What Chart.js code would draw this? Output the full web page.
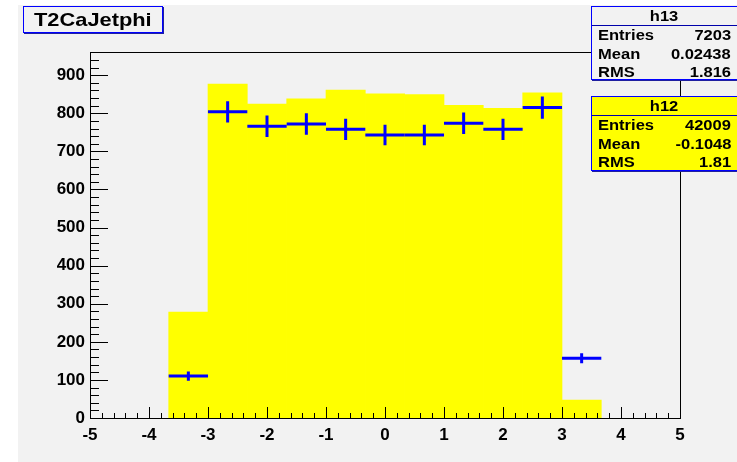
<!DOCTYPE html>
<html>
<head>
<meta charset="utf-8">
<script src="https://cdn.jsdelivr.net/npm/chart.js@4.4.1/dist/chart.umd.min.js"></script>
<style>
  html, body { margin: 0; padding: 0; background: #fff; }
  #wrap { position: relative; width: 737px; height: 462px; overflow: hidden; }
  #c { position: absolute; left: 0; top: 0; }
  .box {
    position: absolute; box-sizing: border-box; border: 1px solid #0000ff;
    box-shadow: 1px 1px 0 #2020a0;
    font-family: "Liberation Sans", Arial, sans-serif; font-weight: bold; color: #000;
  }
  .sx { display: inline-block; transform: scaleX(1.18); white-space: nowrap; }
  .title { left: 23px; top: 6px; width: 140px; height: 27px; background: #f2f2f2; font-size: 18.5px; line-height: 26px; padding-left: 10px; }
  .title .sx { transform-origin: left center; }
  .stat { left: 591px; width: 147px; font-size: 14px; }
  .stat .hd { height: 18px; line-height: 18px; text-align: center; border-bottom: 1px solid #0000aa; }
  .stat .row { position: relative; height: 18.5px; line-height: 18.5px; }
  .stat .k { position: absolute; left: 6px; transform-origin: left center; }
  .stat .v { position: absolute; right: 6px; transform-origin: right center; }
</style>
</head>
<body>
<div id="wrap">
  <canvas id="c" width="737" height="462"></canvas>
  <div class="box title"><span class="sx">T2CaJetphi</span></div>
  <div class="box stat" style="top:6px;height:74px;background:#f2f2f2">
    <div class="hd"><span class="sx">h13</span></div>
    <div class="row"><span class="k sx">Entries</span><span class="v sx">7203</span></div>
    <div class="row"><span class="k sx">Mean</span><span class="v sx">0.02438</span></div>
    <div class="row"><span class="k sx">RMS</span><span class="v sx">1.816</span></div>
  </div>
  <div class="box stat" style="top:96px;height:75px;background:#ffff00">
    <div class="hd"><span class="sx">h12</span></div>
    <div class="row"><span class="k sx">Entries</span><span class="v sx">42009</span></div>
    <div class="row"><span class="k sx">Mean</span><span class="v sx">-0.1048</span></div>
    <div class="row"><span class="k sx">RMS</span><span class="v sx">1.81</span></div>
  </div>
</div>
<script>
// ---- data ----
const binCenters = [-3.333, -2.667, -2, -1.333, -0.667, 0, 0.667, 1.333, 2, 2.667, 3.333];
const binHalfWidth = 1 / 3;
const h12Counts = [278, 877, 824, 838, 861, 851, 849, 821, 813, 854, 47];
const h13Counts = [110, 804, 766, 772, 758, 743, 743, 774, 758, 815, 157];
const h13Errors = [12, 28, 28, 28, 28, 27, 27, 28, 28, 29, 13];
const xTickValues = [-5, -4, -3, -2, -1, 0, 1, 2, 3, 4, 5];
const yTickValues = [0, 100, 200, 300, 400, 500, 600, 700, 800, 900];

const X_MIN = -5, X_MAX = 5, Y_MIN = 0, Y_MAX = 961;

const tickFont = { family: "'Liberation Sans', Arial, sans-serif", size: 17, weight: 'bold' };

/* ---------- fond gris du pad ---------- */
const padBackground = {
  id: 'padBackground',
  beforeDraw(chart) {
    const ctx = chart.ctx;
    ctx.save();
    ctx.fillStyle = '#f2f2f2';
    ctx.fillRect(18, 5, chart.width - 18, chart.height - 5);
    ctx.restore();
  }
};

/* ---------- croix h13 + cadre + ticks internes ---------- */
const rootStyle = {
  id: 'rootStyle',
  afterDatasetsDraw(chart) {
    const { ctx, chartArea: a, scales } = chart;
    const x = scales.x, y = scales.y;
    ctx.save();

    // h13 error crosses
    ctx.strokeStyle = '#0000ff';
    ctx.lineWidth = 3;
    const pts = chart.data.datasets[1].data;
    pts.forEach((p, i) => {
      const px = x.getPixelForValue(p.x);
      const py = y.getPixelForValue(p.y);
      ctx.beginPath();
      ctx.moveTo(x.getPixelForValue(p.x - binHalfWidth), py);
      ctx.lineTo(x.getPixelForValue(p.x + binHalfWidth), py);
      ctx.moveTo(px, y.getPixelForValue(p.y - h13Errors[i]));
      ctx.lineTo(px, y.getPixelForValue(p.y + h13Errors[i]));
      ctx.stroke();
    });

    // frame
    ctx.strokeStyle = '#000';
    ctx.lineWidth = 1;
    ctx.strokeRect(a.left + 0.5, a.top + 0.5, a.right - a.left, a.bottom - a.top);

    // y ticks (inside)
    ctx.beginPath();
    for (let v = Y_MIN; v <= Y_MAX; v += 20) {
      const py = Math.round(y.getPixelForValue(v)) + 0.5;
      const len = v % 100 === 0 ? 18 : 9;
      ctx.moveTo(a.left, py);
      ctx.lineTo(a.left + len, py);
    }
    // x ticks (inside)
    for (let k = 0; k <= 50; k++) {
      const v = X_MIN + k * 0.2;
      const px = Math.round(x.getPixelForValue(v)) + 0.5;
      const len = k % 5 === 0 ? 11 : 5;
      ctx.moveTo(px, a.bottom);
      ctx.lineTo(px, a.bottom - len);
    }
    ctx.stroke();
    ctx.restore();
  }
};

new Chart(document.getElementById('c'), {
  type: 'bar',
  data: {
    datasets: [
      {
        label: 'h12',
        data: binCenters.map((c, i) => ({ x: c, y: h12Counts[i] })),
        backgroundColor: '#ffff00',
        borderWidth: 0,
        categoryPercentage: 1,
        barPercentage: 1
      },
      {
        type: 'scatter',
        label: 'h13',
        data: binCenters.map((c, i) => ({ x: c, y: h13Counts[i] })),
        pointRadius: 0,
        showLine: false
      }
    ]
  },
  options: {
    responsive: false,
    animation: false,
    layout: { padding: { top: 52, right: 57, left: 0, bottom: 0 } },
    plugins: {
      legend: { display: false },
      title: { display: false },
      tooltip: { enabled: false }
    },
    scales: {
      x: {
        type: 'linear',
        min: X_MIN,
        max: X_MAX,
        offset: false,
        grid: { display: false, drawTicks: false },
        border: { display: false },
        afterBuildTicks: s => { s.ticks = xTickValues.map(v => ({ value: v })); },
        afterFit: s => { s.height = 44; },
        ticks: {
          font: tickFont,
          color: '#000',
          padding: 7,
          maxRotation: 0,
          autoSkip: false,
          callback: v => String(v)
        }
      },
      y: {
        min: Y_MIN,
        max: Y_MAX,
        grid: { display: false, drawTicks: false },
        border: { display: false },
        afterBuildTicks: s => { s.ticks = yTickValues.map(v => ({ value: v })); },
        afterFit: s => { s.width = 90; },
        ticks: {
          font: tickFont,
          color: '#000',
          padding: 5,
          callback: v => String(v)
        }
      }
    }
  },
  plugins: [padBackground, rootStyle]
});
</script>
</body>
</html>
